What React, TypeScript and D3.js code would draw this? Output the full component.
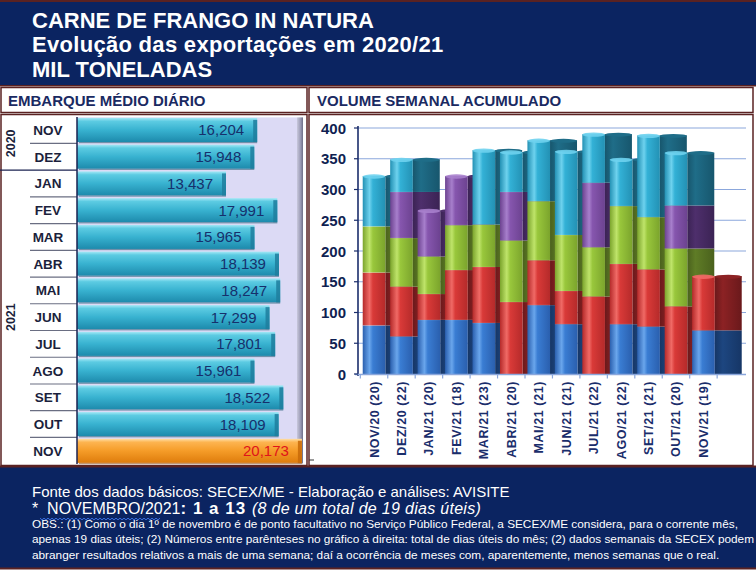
import React from 'react';
import * as d3 from 'd3';

// ---------- DATA ----------
const months = ['NOV', 'DEZ', 'JAN', 'FEV', 'MAR', 'ABR', 'MAI', 'JUN', 'JUL', 'AGO', 'SET', 'OUT', 'NOV'];
const dailyAvg = [16204, 15948, 13437, 17991, 15965, 18139, 18247, 17299, 17801, 15961, 18522, 18109, 20173];
const yearLabels = ['2020', '2021'];
const yearFirstRow = [0, 2];
const yearLastRow = [1, 12];

const weekCats = ['NOV/20 (20)', 'DEZ/20 (22)', 'JAN/21 (20)', 'FEV/21 (18)', 'MAR/21 (23)', 'ABR/21 (20)',
  'MAI/21 (21)', 'JUN/21 (21)', 'JUL/21 (22)', 'AGO/21 (22)', 'SET/21 (21)', 'OUT/21 (20)', 'NOV/21 (19)'];
const week1 = [79, 61, 88, 88, 83, 0, 112, 81, 0, 81, 77, 0, 71];
const week2 = [86, 81, 42, 81, 91, 117, 73, 54, 126, 98, 93, 110, 88];
const week3 = [75, 79, 61, 73, 69, 100, 96, 91, 80, 94, 85, 94, 0];
const week4 = [0, 75, 75, 80, 0, 79, 0, 0, 105, 0, 0, 70, 0];
const week5 = [82, 53, 0, 0, 121, 65, 99, 136, 79, 76, 133, 86, 0];
const yTicks = [0, 50, 100, 150, 200, 250, 300, 350, 400];

const weekKeys = ['w1', 'w2', 'w3', 'w4', 'w5'];
const weekColors = [
  { light: '#6aa6ec', mid: '#3a7dd3', dark: '#2a5fae', side: '#1d4680', sideDark: '#163666' },
  { light: '#f06a66', mid: '#d93a38', dark: '#b52a2a', side: '#8c2224', sideDark: '#6a191b' },
  { light: '#bfe46a', mid: '#99c73c', dark: '#7ba42c', side: '#5f7c26', sideDark: '#4a611d' },
  { light: '#a77fcc', mid: '#8656ae', dark: '#6c4290', side: '#4e2f6c', sideDark: '#3b2354' },
  { light: '#6ed2ee', mid: '#33b1d6', dark: '#2391b4', side: '#1f6d88', sideDark: '#17566d' },
];

const NAVY = '#0b2461';
const MAROON = '#5a2222';

export default function App() {
  // ---------- LEFT CHART ----------
  const rowScale = d3.scaleBand<number>()
    .domain(d3.range(months.length))
    .range([117.4, 463.4])
    .paddingInner(0.1)
    .paddingOuter(0.02);
  const rowStep = rowScale.step();
  const xLeft = d3.scaleLinear().domain([0, 20173]).range([74.6, 301.9]);
  const barX0 = 77;

  // ---------- RIGHT CHART ----------
  const table = weekCats.map((c, i) => ({
    cat: c, w1: week1[i], w2: week2[i], w3: week3[i], w4: week4[i], w5: week5[i],
  }));
  const stacked = d3.stack<any>().keys(weekKeys)(table);
  const xBand = d3.scaleBand<string>().domain(weekCats).range([360.3, 360.3 + 27.45 * 13]).padding(0);
  const y = d3.scaleLinear().domain([0, 400]).range([374, 128]);
  const frontW = 22.6;
  const depth = 27;
  const bw = xBand.bandwidth();

  const bars3d = weekCats.map((c, i) => {
    const cx = (xBand(c) as number) + bw / 2;
    const fx = cx - frontW / 2;
    const segs = stacked.map((s, k) => ({ k, y0: s[i][0], y1: s[i][1] })).filter(s => s.y1 - s.y0 > 0);
    const topSeg = segs[segs.length - 1];
    return (
      <g key={c}>
        {segs.map(s => (
          <rect key={'s' + s.k} x={fx + frontW} y={y(s.y1)} width={depth} height={y(s.y0) - y(s.y1)}
            fill={`url(#side${s.k})`} />
        ))}
        {segs.map(s => (
          <rect key={'f' + s.k} x={fx} y={y(s.y1)} width={frontW} height={y(s.y0) - y(s.y1)}
            fill={`url(#front${s.k})`} />
        ))}
        {segs.slice(1).map(s => (
          <line key={'l' + s.k} x1={fx} x2={fx + frontW} y1={y(s.y0)} y2={y(s.y0)}
            stroke="rgba(255,255,255,0.18)" strokeWidth={0.8} />
        ))}
        {topSeg && (
          <g>
            <ellipse cx={cx} cy={y(topSeg.y1) + 0.5} rx={frontW / 2} ry={2.2}
              fill={weekColors[topSeg.k].light} opacity={0.9} />
            <ellipse cx={fx + frontW + depth / 2} cy={y(topSeg.y1) + 0.5} rx={depth / 2} ry={2}
              fill={weekColors[topSeg.k].side} />
          </g>
        )}
      </g>
    );
  });

  const squiggle = (() => {
    const pts: string[] = [];
    for (let x = 40, k = 0; x <= 160; x += 2, k++) pts.push(`${x},${519 + (k % 2 === 0 ? -0.8 : 0.8)}`);
    return 'M' + pts.join(' L');
  })();

  return (
    <div style={{ position: 'absolute', left: 0, top: 0 }}>
      <svg width={756} height={573} style={{ display: 'block', fontFamily: 'Arial, "Liberation Sans", sans-serif' }}>
        <defs>
          <linearGradient id="barCyan" x1="0" y1="0" x2="0" y2="1">
            <stop offset="0" stopColor="#a4e8f6" />
            <stop offset="0.14" stopColor="#5ccbe2" />
            <stop offset="0.5" stopColor="#38b2d0" />
            <stop offset="1" stopColor="#1d8aac" />
          </linearGradient>
          <linearGradient id="barOrange" x1="0" y1="0" x2="0" y2="1">
            <stop offset="0" stopColor="#ffe0a8" />
            <stop offset="0.14" stopColor="#fdb450" />
            <stop offset="0.5" stopColor="#f59c28" />
            <stop offset="1" stopColor="#de7c0c" />
          </linearGradient>
          <linearGradient id="wall" x1="0" y1="0" x2="1" y2="0">
            <stop offset="0" stopColor="#c8c8dc" />
            <stop offset="0.6" stopColor="#9a9ab4" />
            <stop offset="1" stopColor="#6e6e88" />
          </linearGradient>
          {weekColors.map((c, k) => (
            <linearGradient key={'fg' + k} id={`front${k}`} x1="0" y1="0" x2="1" y2="0">
              <stop offset="0" stopColor={c.dark} />
              <stop offset="0.3" stopColor={c.light} />
              <stop offset="0.45" stopColor={c.mid} />
              <stop offset="1" stopColor={c.dark} />
            </linearGradient>
          ))}
          {weekColors.map((c, k) => (
            <linearGradient key={'sg' + k} id={`side${k}`} x1="0" y1="0" x2="1" y2="0">
              <stop offset="0" stopColor={c.sideDark} />
              <stop offset="0.3" stopColor={c.side} />
              <stop offset="1" stopColor={c.sideDark} />
            </linearGradient>
          ))}
        </defs>

        <rect x={0} y={0} width={756} height={573} fill="#ffffff" />

        {/* Header */}
        <rect x={0} y={0} width={756} height={86} fill={NAVY} />
        <rect x={0} y={0} width={756} height={2} fill={MAROON} />
        <rect x={0} y={85} width={756} height={1.5} fill={MAROON} />
        <g fill="#ffffff" fontWeight="bold" fontSize={22}>
          <text x={32} y={28}>CARNE DE FRANGO IN NATURA</text>
          <text x={32} y={52} letterSpacing={0.3}>Evolução das exportações em 2020/21</text>
          <text x={32} y={77}>MIL TONELADAS</text>
        </g>

        {/* Panel frames */}
        <g fill="none" stroke={MAROON} strokeWidth={1.5}>
          <rect x={1} y={87.5} width={306} height={25} />
          <rect x={309} y={87.5} width={444} height={25} />
          <rect x={1} y={114.5} width={306} height={351} />
          <rect x={309} y={114.5} width={444} height={351} />
        </g>
        <g fill="#1a2a62" fontWeight="bold" fontSize={15}>
          <text x={8} y={106}>EMBARQUE MÉDIO DIÁRIO</text>
          <text x={317} y={106}>VOLUME SEMANAL ACUMULADO</text>
        </g>

        {/* Left chart */}
        <rect x={barX0} y={117.4} width={220} height={346} fill="#dcdaf5" />
        <rect x={297} y={117.4} width={6} height={346} fill="url(#wall)" />
        {months.map((m, i) => {
          const y0 = rowScale(i) as number;
          const h = rowScale.bandwidth();
          const last = i === months.length - 1;
          const xe = xLeft(dailyAvg[i]);
          return (
            <g key={'row' + i}>
              <rect x={barX0} y={y0} width={xe - barX0} height={h} fill={last ? 'url(#barOrange)' : 'url(#barCyan)'} />
              <rect x={xe - 4} y={y0 + 2} width={4} height={h - 2} fill={last ? '#c86a08' : '#1f7e9e'} opacity={0.85} />
              <rect x={barX0 + 2} y={y0 + h} width={xe - barX0 - 2} height={1.2} fill={last ? '#a45a10' : '#2a5f78'} opacity={0.6} />
              <text x={xe - 13} y={y0 + h / 2 + 5.5} textAnchor="end" fontSize={15}
                fill={last ? '#e0141a' : '#16306c'}>{d3.format(',')(dailyAvg[i])}</text>
              <text x={48} y={y0 + h / 2 + 5} textAnchor="middle" fontSize={13.5} fontWeight="bold" fill="#1b1f3c">{m}</text>
            </g>
          );
        })}
        {months.slice(1).map((_, j) => {
          const i = j + 1;
          const yy = (rowScale(i) as number) - rowStep * 0.05;
          const isYearBreak = yearFirstRow.includes(i);
          return (
            <line key={'sep' + i} x1={isYearBreak ? 0 : 30} x2={barX0} y1={yy} y2={yy}
              stroke={isYearBreak ? '#1b2250' : '#6a6e82'} strokeWidth={isYearBreak ? 1.3 : 1.2} />
          );
        })}
        {yearLabels.map((yl, k) => {
          const top = rowScale(yearFirstRow[k]) as number;
          const bot = (rowScale(yearLastRow[k]) as number) + rowScale.bandwidth();
          const cy = (top + bot) / 2;
          return (
            <text key={yl} transform={`translate(15,${cy}) rotate(-90)`} textAnchor="middle" fontSize={12.5}
              fontWeight="bold" fill="#1b1f3c">{yl}</text>
          );
        })}
        <line x1={barX0} x2={barX0} y1={117} y2={464} stroke="#1b2250" strokeWidth={1.5} />

        {/* Right chart */}
        {yTicks.slice(1).map(t => (
          <line key={'g' + t} x1={358} x2={746} y1={y(t)} y2={y(t)} stroke="#8ba7dc" strokeWidth={1.2} />
        ))}
        {bars3d}
        <line x1={358} x2={358} y1={126} y2={376} stroke="#1b2d6b" strokeWidth={1.6} />
        <line x1={355} x2={746} y1={374.5} y2={374.5} stroke="#8ba7dc" strokeWidth={1.5} />
        {yTicks.map(t => (
          <g key={'yt' + t}>
            <line x1={354} x2={358} y1={y(t)} y2={y(t)} stroke="#1b2d6b" strokeWidth={1.2} />
            <text x={346} y={y(t) + 5.5} textAnchor="end" fontSize={15} fontWeight="bold" fill="#0f1f52">{t}</text>
          </g>
        ))}
        {d3.range(weekCats.length + 1).map(i => {
          const xx = 360.3 + xBand.step() * i;
          return <line key={'xt' + i} x1={xx} x2={xx} y1={374.5} y2={378.5} stroke="#8ba7dc" strokeWidth={1.2} />;
        })}
        {weekCats.map(c => {
          const cx = (xBand(c) as number) + bw / 2;
          return (
            <text key={'xl' + c} transform={`translate(${cx + 4.5},381) rotate(-90)`} textAnchor="end"
              fontSize={12.5} fontWeight="bold" letterSpacing={0.6} fill="#1a2d6b">{c}</text>
          );
        })}
        <line x1={309} x2={314} y1={460} y2={460} stroke="#333" strokeWidth={1} />

        {/* Footer */}
        <rect x={0} y={467} width={756} height={101} fill={NAVY} />
        <rect x={0} y={465.5} width={756} height={2} fill={MAROON} />
        <rect x={0} y={567.5} width={756} height={2} fill={MAROON} />
        <g fill="#ffffff">
          <text x={32} y={497} fontSize={15}>Fonte dos dados básicos: SECEX/ME - Elaboração e análises: AVISITE</text>
          <text x={32} y={514} fontSize={16}>
            <tspan>{'*\u00a0\u00a0NOVEMBRO/2021'}</tspan>
            <tspan fontWeight="bold" fontSize={17} letterSpacing={1}>{': 1 a 13 '}</tspan>
            <tspan fontStyle="italic" letterSpacing={0.3}>(8 de um total de 19 dias úteis)</tspan>
          </text>
          <text x={32} y={527.5} fontSize={11.8}>OBS.: (1) Como o dia 1º de novembro é de ponto facultativo no Serviço Público Federal, a SECEX/ME considera, para o corrente mês,</text>
          <text x={32} y={543} fontSize={11.8}>apenas 19 dias úteis; (2) Números entre parênteses no gráfico à direita: total de dias úteis do mês; (2) dados semanais da SECEX podem</text>
          <text x={32} y={558.5} fontSize={11.8}>abranger resultados relativos a mais de uma semana; daí a ocorrência de meses com, aparentemente, menos semanas que o real.</text>
        </g>
        <path d={squiggle} fill="none" stroke="#3a6fe0" strokeWidth={1} />
      </svg>
    </div>
  );
}
